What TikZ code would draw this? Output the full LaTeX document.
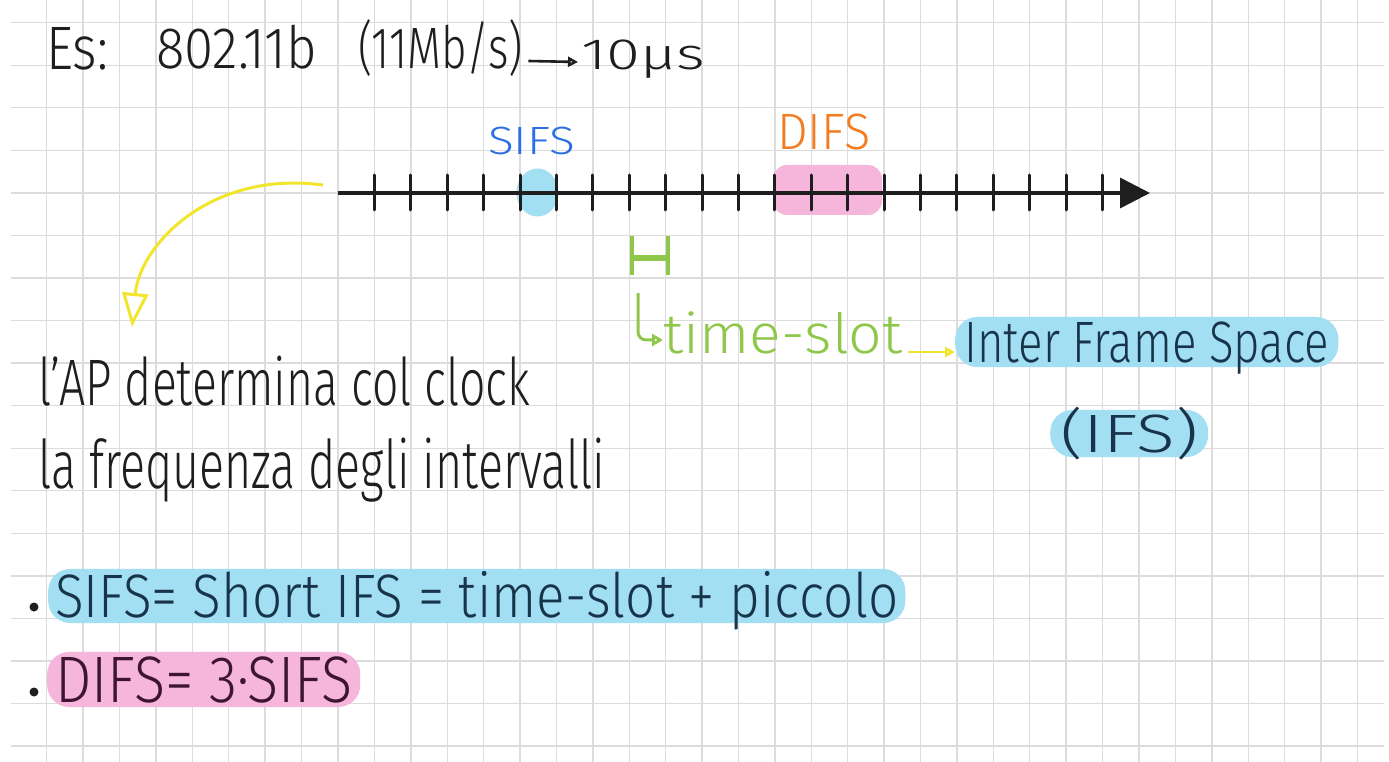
\documentclass[tikz,border=0pt]{standalone}
\usepackage{fontspec}
\setmainfont{Fira Sans Light}
\usetikzlibrary{arrows.meta}
\definecolor{gridc}{HTML}{DCDCDC}
\definecolor{ink}{HTML}{1E1E1E}
\definecolor{hlblue}{HTML}{A3DFF3}
\definecolor{hlpink}{HTML}{F6B5DA}
\definecolor{sifsblue}{HTML}{2C6FE3}
\definecolor{difsorange}{HTML}{F47C20}
\definecolor{grn}{HTML}{8FC74A}
\definecolor{yel}{HTML}{F2E62C}
\definecolor{navy}{HTML}{17344A}
\definecolor{plum}{HTML}{3D1533}
\newcommand{\hw}[3]{\resizebox{#1pt}{#2pt}{\vphantom{E}\smash{#3}}}
\begin{document}
\begin{tikzpicture}[x=1pt,y=-1pt,
  gridline/.style={draw=gridc, line width=1.4pt},
  tickmark/.style={draw=ink, line width=3pt, line cap=round},
  axisline/.style={draw=ink, line width=3.5pt, -{Triangle[length=30pt,width=30pt]}},
  txt/.style={inner sep=0pt, anchor=base west, text=ink},
  pill/.style={rounded corners=22pt, inner sep=0pt, anchor=base west},
  yarrow/.style={draw=yel, line width=3pt},
  garrow/.style={draw=grn, line width=3pt},
  bullet/.style={circle, fill=ink, inner sep=0pt, minimum size=9pt}]
\useasboundingbox (0,0) rectangle (1389,762);
\fill[white] (0,0) rectangle (1389,762);
% grid paper
\foreach \k in {0,...,36} \draw[gridline] ({46.7+36.41*\k},0) -- ({46.7+36.41*\k},762);
\foreach \j in {0,...,17} \draw[gridline] (11,{22.7+42.55*\j}) -- (1384,{22.7+42.55*\j});
% title
\node[txt] (es) at (46,70) {\hw{62}{42}{Es:}};
\node[txt] (num) at (156,69) {\hw{161}{40}{802.11b}};
\node[txt] (rate) at (358,69) {\hw{165}{40}{(11Mb/s)}};
\node[txt] (us) at (581,70) {\hw{124}{30}{10µs}};
\draw[draw=ink, line width=2.6pt, -{Triangle[open,length=10pt,width=10pt]}] ([xshift=5pt,yshift=8pt]rate.base east) -- ([xshift=-3pt,yshift=8pt]us.base west);
% highlights on the axis
\fill[hlblue] (537.5,192.5) ellipse [x radius=21, y radius=24];
\fill[hlpink, rounded corners=14pt] (773,165) rectangle (882,215);
% axis
\foreach \k in {9,...,29} \draw[tickmark] ({46.7+36.41*\k},175) -- ({46.7+36.41*\k},210);
\draw[axisline] (338,193) -- (1150,193);
\node[txt, text=sifsblue] (sifsl) at (488,155) {\hw{87}{27}{SIFS}};
\node[txt, text=difsorange] (difsl) at (777,150) {\hw{93}{35}{DIFS}};
% yellow curved arrow
\coordinate (ys) at (323,185);
\coordinate (ye) at (132,327);
\draw[yarrow, -{Triangle[open,length=34pt,width=26pt]}] (ys) .. controls (210,170) and (140,245) .. (ye);
% time slot
\draw[draw=grn, line width=4pt] (632,236) -- (632,275) (668,236) -- (668,275);
\draw[draw=grn, line width=6pt] (632,258) -- (668,258);
\node[txt, text=grn] (ts) at (663,353) {\hw{239}{38}{time-slot}};
\draw[garrow, rounded corners=8pt, -{Triangle[open,length=11pt,width=12pt]}] (638,293) |- ([yshift=-6pt]ts.west);
\node[pill, fill=hlblue, text=navy, inner xsep=9pt, inner ysep=5pt] (ifs) at (955,362) {\hw{365}{40}{Inter Frame Space}};
\node[pill, fill=hlblue, text=navy, inner xsep=10pt, inner ysep=5pt] (ifsab) at (1050,452) {\hw{138}{37}{(IFS)}};
\draw[draw=yel, line width=2.5pt, -{Triangle[open,length=10pt,width=10pt]}] ([xshift=6pt,yshift=1pt]ts.base east) -- ([yshift=10pt]ifs.base west);
% explanation
\node[txt] (ap1) at (38,405) {\hw{492}{45}{l'AP determina col clock}};
\node[txt] (ap2) at (38,488) {\hw{567}{46}{la frequenza degli intervalli}};
% definitions
\node[bullet] (b1) at (34,607) {};
\node[bullet] (b2) at (34,692) {};
\node[pill, fill=hlblue, text=navy, inner xsep=7pt, inner ysep=6pt] (sifsdef) at (48,617) {\hw{843}{42}{SIFS= Short IFS = time-slot + piccolo}};
\node[pill, fill=hlpink, text=plum, inner xsep=8pt, inner ysep=5pt] (difsdef) at (47,702) {\hw{297}{45}{DIFS= 3·SIFS}};
\end{tikzpicture}
\end{document}
